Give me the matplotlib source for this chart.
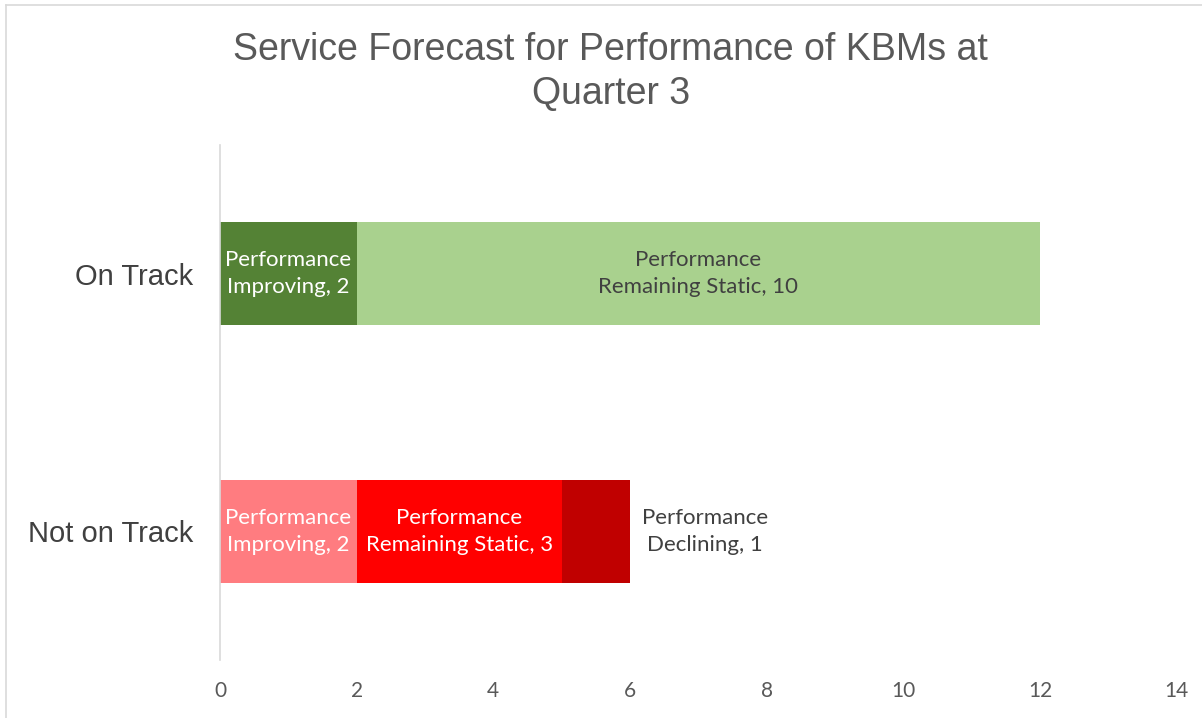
import matplotlib.pyplot as plt
from matplotlib.lines import Line2D

# Data
categories = ['Not on Track', 'On Track']
series_names = ['Performance Improving', 'Performance Remaining Static', 'Performance Declining']
improving = [2, 2]
static = [3, 10]
declining = [1, 0]

# Colours per category (bottom row, top row)
col_improving = ['#FF7C80', '#548235']
col_static = ['#FF0000', '#A9D18E']
col_declining = ['#C00000', '#C00000']
txt_improving = ['white', 'white']
txt_static = ['white', '#404040']

label_font = ['Lato', 'DejaVu Sans']
title_font = ['Liberation Sans', 'DejaVu Sans']

fig = plt.figure(figsize=(12.02, 7.18), dpi=100)
ax = fig.add_axes((0.183, 0.0808, 0.796, 0.717))

y = range(len(categories))
bh = 0.40

ax.barh(y, improving, height=bh, color=col_improving)
ax.barh(y, static, left=improving, height=bh, color=col_static)
left3 = [a + b for a, b in zip(improving, static)]
ax.barh(y, declining, left=left3, height=bh, color=col_declining)

# data labels
for i in y:
    ax.text(improving[i] / 2, i, f'Performance\nImproving, {improving[i]}',
            ha='center', va='center', color=txt_improving[i],
            fontsize=16, family=label_font, linespacing=1.45)
    ax.text(improving[i] + static[i] / 2, i,
            f'Performance\nRemaining Static, {static[i]}',
            ha='center', va='center', color=txt_static[i],
            fontsize=16, family=label_font, linespacing=1.45)
    if declining[i] > 0:
        ax.text(left3[i] + declining[i] + 1.1, i,
                f'Performance\nDeclining, {declining[i]}',
                ha='center', va='center', color='#404040',
                fontsize=16, family=label_font, linespacing=1.45)

ax.set_xlim(0, 14)
ax.set_ylim(-0.5, 1.5)
ax.set_xticks(range(0, 15, 2))
ax.set_yticks(list(y))
ax.set_yticklabels(categories, fontsize=21, color='#404040', family=title_font)
for lab in ax.get_xticklabels():
    lab.set_fontsize(15)
    lab.set_color('#595959')
    lab.set_family(label_font)

ax.tick_params(axis='both', length=0)
ax.tick_params(axis='x', pad=15)
ax.tick_params(axis='y', pad=19.5)
for s in ['top', 'right', 'bottom']:
    ax.spines[s].set_visible(False)
ax.spines['left'].set_color('#D9D9D9')
ax.spines['left'].set_linewidth(1.2)

fig.text(0.508, 0.90, 'Service Forecast for Performance of KBMs at\nQuarter 3',
         ha='center', va='center', fontsize=27, color='#595959',
         family=title_font, linespacing=1.3)

# outer chart border (left and top visible)
fig.add_artist(Line2D([0.005, 0.005], [0, 0.993], color='#D9D9D9', lw=1.2))
fig.add_artist(Line2D([0.005, 1], [0.993, 0.993], color='#D9D9D9', lw=1.2))

plt.savefig('out.png', dpi=100)
